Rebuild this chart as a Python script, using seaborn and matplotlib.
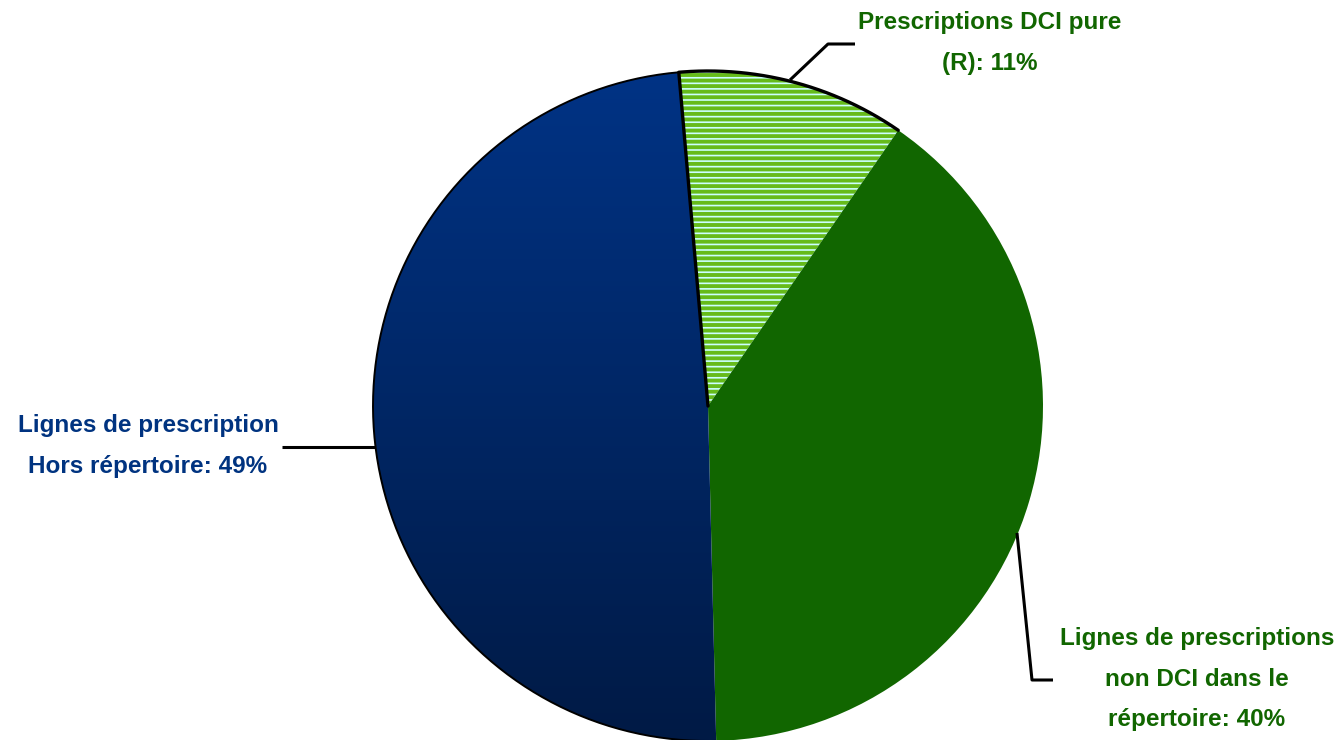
import matplotlib
matplotlib.use("Agg")
import matplotlib.pyplot as plt
import numpy as np
import seaborn as sns
from matplotlib.colors import LinearSegmentedColormap

# share of prescription lines
labels = ["Prescriptions DCI pure\n(R): 11%",
          "Lignes de prescriptions\nnon DCI dans le\nrépertoire: 40%",
          "Lignes de prescription\nHors répertoire: 49%"]
shares = [11, 40, 49]
face_colors = ["#ccffff", "#116600", "#00307a"]
text_colors = ["#116600", "#116600", "#003380"]

sns.set_style("white")
plt.rcParams["font.family"] = ["Liberation Sans", "DejaVu Sans"]
plt.rcParams["hatch.linewidth"] = 2.8

fig = plt.figure(figsize=(13.41, 7.40), dpi=100)
ax = fig.add_axes([0, 0, 1, 1])

cx, cy, r = 708, 334, 335
wedges, _ = ax.pie(shares, colors=face_colors, startangle=95, counterclock=False,
                   center=(cx, cy), radius=r, frame=True)
ax.set_xlim(0, 1341)
ax.set_ylim(0, 740)
ax.set_aspect("equal")
ax.axis("off")


def arc(t1, t2):
    t = np.radians(np.linspace(t1, t2, 200))
    return cx + r * np.cos(t), cy + r * np.sin(t)


# hatched slice: green stripes on pale cyan
hatched = wedges[0]
hatched.set_edgecolor("#66bb1a")
hatched.set_linewidth(0)
hatched.set_hatch("---")
# black outline only on the arc and the left radial edge
xs, ys = arc(hatched.theta1, hatched.theta2)
xs = np.append(xs, cx)
ys = np.append(ys, cy)
ax.plot(xs, ys, color="black", linewidth=2.4, zorder=3)

wedges[1].set_linewidth(0)

# blue slice: vertical gradient clipped to the wedge
blue = wedges[2]
blue.set_linewidth(0)
cmap = LinearSegmentedColormap.from_list("blues", ["#001a45", "#003385"])
grad = np.linspace(0, 1, 256).reshape(-1, 1)
im = ax.imshow(grad, cmap=cmap, extent=[cx - r, cx + r, cy - r, cy + r],
               origin="lower", aspect="auto", zorder=1.5)
im.set_clip_path(blue)
blue.set_facecolor("none")
xs, ys = arc(blue.theta1, blue.theta2)
ax.plot(xs, ys, color="black", linewidth=1.4, zorder=3)

# labels and leader lines
label_pos = [(990, 697), (1197, 61), (148, 294)]
for text, color, (x, y) in zip(labels, text_colors, label_pos):
    ax.text(x, y, text, ha="center", va="center", multialignment="center",
            color=color, fontsize=17.5, fontweight="bold", linespacing=1.95)

leaders = [([790, 828, 855], [660, 696, 696]),
           ([1017, 1032, 1053], [207, 60, 60]),
           ([282, 375], [293, 293])]
for xs, ys in leaders:
    ax.plot(xs, ys, color="black", linewidth=2.2, solid_capstyle="butt", zorder=4)

fig.savefig("out.png", dpi=100)
